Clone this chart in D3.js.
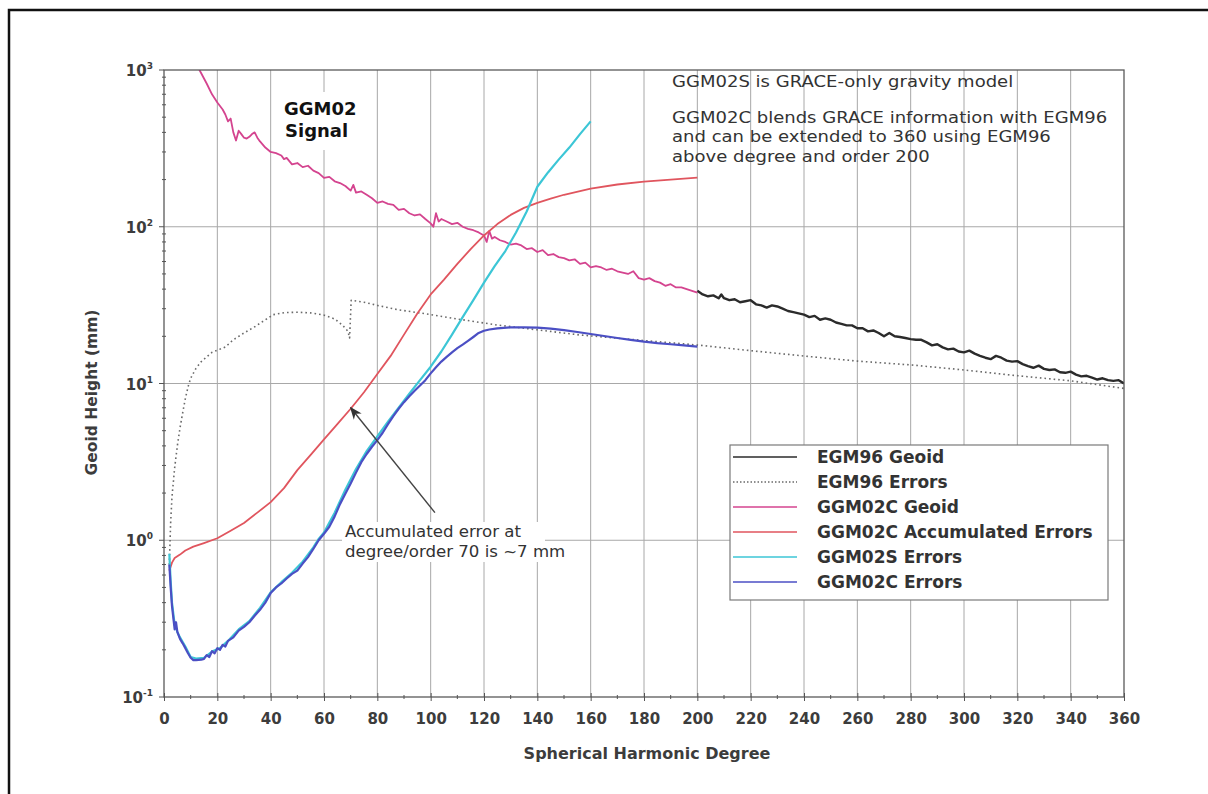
<!DOCTYPE html>
<html>
<head>
<meta charset="utf-8">
<script src="https://d3js.org/d3.v7.min.js"></script>
<style>
  body { margin: 0; background: #fff; }
  #chart svg { display: block; font-family: 'DejaVu Sans', 'Liberation Sans', sans-serif; }
</style>
</head>
<body>
<div id="chart"></div>
<script>
// values: [spherical harmonic degree, geoid height (mm)]
const egm96Geoid = [
  [200, 39], [202, 37], [204, 36], [206, 36.5], [208, 35], [209, 37], [210, 35], [212, 34],
  [214, 34.5], [216, 33], [218, 33.5], [220, 34], [221, 33], [222, 32], [224, 31.5], [226, 30.5],
  [228, 31.5], [230, 31], [232, 30], [234, 29], [236, 28.5], [238, 28], [240, 27.5], [242, 26.5],
  [244, 27], [246, 25.5], [248, 26], [250, 25.5], [252, 24.5], [254, 24], [256, 23.5], [258, 23.5],
  [260, 22.5], [262, 22.5], [264, 21.5], [266, 21.8], [268, 21], [270, 20], [272, 21], [274, 20],
  [276, 19.8], [278, 19.5], [280, 19.2], [282, 19], [284, 19], [286, 18.3], [288, 17.5], [290, 17.8],
  [292, 17], [294, 16.5], [296, 16.7], [298, 16], [300, 15.8], [302, 16.2], [304, 15.5], [306, 15],
  [308, 14.6], [310, 14.3], [312, 15], [314, 14.6], [316, 14], [318, 13.8], [320, 13.9], [322, 13.3],
  [324, 12.9], [326, 12.6], [328, 13], [330, 12.4], [332, 12.2], [334, 12.3], [336, 11.8], [338, 11.7],
  [340, 11.9], [342, 11.4], [344, 11.1], [346, 11.2], [348, 10.9], [350, 10.6], [352, 10.8], [354, 10.5],
  [356, 10.4], [358, 10.5], [360, 10.0]
];

const egm96Errors = [
  [2, 0.7], [2.5, 1.3], [3, 1.9], [4, 2.9], [5, 4.0], [6, 5.2], [7, 6.5], [8, 8.0], [9, 9.5],
  [10, 10.8], [12, 12.5], [14, 13.8], [16, 14.8], [18, 15.8], [20, 16.3], [23, 17.1], [26, 19],
  [30, 21], [34, 23], [38, 25.5], [41, 27.5], [45, 28.3], [50, 28.5], [55, 28.2], [60, 27.3],
  [64, 25.8], [67, 23.5], [69, 21.5], [69.6, 19.5], [70.2, 34], [75, 33], [80, 31.5], [88, 29.5],
  [96, 28.2], [110, 25.8], [125, 23.6], [140, 22], [156, 20.4], [180, 18.8], [200, 17.6], [220, 16.2],
  [243, 14.8], [260, 13.9], [281, 13.1], [300, 12.2], [318, 11.3], [340, 10.4], [360, 9.3]
];

const ggm02cGeoid = [
  [12, 1100], [14, 950], [16, 820], [18, 700], [20, 620], [22, 560], [23, 520], [24, 470], [25, 490],
  [26, 400], [27, 355], [28, 410], [29, 390], [30, 370], [31, 365], [32, 375], [33, 390], [34, 400],
  [35, 370], [36, 350], [38, 320], [40, 300], [42, 295], [44, 285], [45, 270], [46, 275], [48, 250],
  [50, 255], [52, 240], [54, 245], [56, 228], [58, 220], [60, 205], [62, 208], [64, 195], [66, 190],
  [68, 182], [70, 170], [71, 185], [72, 165], [74, 168], [76, 160], [78, 152], [80, 142], [82, 145],
  [84, 140], [86, 138], [88, 128], [90, 130], [92, 122], [94, 118], [96, 120], [98, 112], [100, 105],
  [101, 100], [102, 122], [103, 108], [104, 112], [106, 108], [108, 104], [110, 106], [112, 100],
  [114, 97], [116, 95], [118, 92], [120, 88], [121, 80], [122, 94], [123, 84], [124, 86], [126, 82],
  [128, 80], [130, 77], [132, 78], [134, 76], [136, 72], [138, 73], [140, 69], [142, 71], [144, 66],
  [146, 67], [148, 64], [150, 63], [152, 61], [154, 62], [156, 58], [158, 59], [160, 55], [162, 56],
  [164, 55], [166, 53], [168, 54], [170, 52], [172, 51], [174, 50], [176, 52], [178, 47], [180, 46],
  [182, 47], [184, 45], [186, 44], [188, 42], [190, 43], [192, 41], [194, 41], [196, 40], [198, 39],
  [200, 38]
];

const ggm02cAccumulated = [
  [2, 0.64], [3, 0.72], [4, 0.77], [6, 0.81], [8, 0.86], [11, 0.91], [15, 0.96], [20, 1.03],
  [25, 1.15], [30, 1.29], [35, 1.5], [40, 1.75], [45, 2.15], [50, 2.8], [55, 3.5], [60, 4.4],
  [65, 5.5], [70, 6.9], [75, 8.8], [80, 11.5], [85, 15], [90, 20.5], [95, 28], [100, 37],
  [105, 46], [110, 58], [115, 72], [120, 88], [125, 104], [130, 119], [135, 132], [140, 142],
  [145, 151], [150, 160], [160, 175], [170, 186], [180, 194], [190, 200], [200, 206]
];

const ggm02sErrors = [
  [2, 0.82], [2.5, 0.55], [3, 0.4], [4, 0.29], [5, 0.26], [6, 0.24], [8, 0.21], [10, 0.18],
  [12, 0.176], [15, 0.178], [18, 0.195], [21, 0.205], [24, 0.228], [28, 0.27], [32, 0.305],
  [36, 0.37], [40, 0.465], [44, 0.54], [48, 0.62], [52, 0.73], [56, 0.9], [58, 1.02], [60, 1.12],
  [64, 1.5], [68, 2.1], [72, 2.85], [76, 3.7], [80, 4.6], [84, 5.7], [88, 7.0], [92, 8.6],
  [96, 10.5], [100, 12.8], [104, 16], [108, 20.5], [112, 26.5], [116, 34], [120, 44], [124, 56],
  [128, 70], [132, 92], [136, 125], [140, 180], [144, 222], [148, 268], [152, 320], [156, 390],
  [160, 470]
];

const ggm02cErrors = [
  [2, 0.7], [2.5, 0.5], [3, 0.38], [3.5, 0.32], [4, 0.27], [4.5, 0.3], [5, 0.26], [6, 0.235],
  [7, 0.22], [8, 0.205], [9, 0.19], [10, 0.178], [11, 0.172], [12, 0.172], [14, 0.173], [15, 0.175],
  [16, 0.185], [17, 0.18], [18, 0.196], [19, 0.19], [20, 0.205], [21, 0.2], [22, 0.215], [23, 0.21],
  [24, 0.228], [26, 0.24], [28, 0.265], [30, 0.28], [32, 0.3], [34, 0.33], [36, 0.36], [38, 0.4],
  [40, 0.46], [42, 0.5], [44, 0.53], [46, 0.57], [48, 0.61], [50, 0.64], [52, 0.71], [54, 0.78],
  [56, 0.88], [58, 1.0], [60, 1.1], [62, 1.22], [64, 1.42], [66, 1.7], [68, 1.98], [70, 2.3],
  [72, 2.7], [74, 3.15], [76, 3.55], [78, 3.95], [80, 4.35], [82, 4.85], [84, 5.5], [86, 6.2],
  [88, 6.9], [90, 7.6], [92, 8.3], [94, 9.0], [96, 9.7], [98, 10.5], [100, 11.6], [102, 12.7],
  [104, 13.8], [106, 14.8], [108, 15.8], [110, 16.8], [112, 17.7], [114, 18.7], [116, 19.8],
  [118, 21], [120, 21.7], [122, 22.1], [125, 22.5], [130, 22.8], [135, 22.8], [140, 22.7],
  [145, 22.4], [150, 21.9], [155, 21.3], [160, 20.7], [165, 20.1], [170, 19.5], [175, 19],
  [180, 18.5], [185, 18.1], [190, 17.8], [195, 17.5], [200, 17.2]
];

const seriesNames = [
  'EGM96 Geoid', 'EGM96 Errors', 'GGM02C Geoid',
  'GGM02C Accumulated Errors', 'GGM02S Errors', 'GGM02C Errors'
];

const xTickValues = [0, 20, 40, 60, 80, 100, 120, 140, 160, 180, 200, 220, 240, 260, 280, 300, 320, 340, 360];
const yTickExponents = [-1, 0, 1, 2, 3];

const noteLines = [
  'GGM02S is GRACE-only gravity model',
  'GGM02C blends GRACE information with EGM96',
  'and can be extended to 360 using EGM96',
  'above degree and order 200'
];
const arrowNote = ['Accumulated error at', 'degree/order 70 is ~7 mm'];
// arrow runs from the note to the red curve at degree 70, ~7 mm
const arrowFrom = [101.6, 1.5];
const arrowTo = [70, 7];

function geoidChart() {
  const dimensions = {
    width: 1208,
    height: 794,
    margin: { top: 70, right: 84, bottom: 97, left: 164 },
  };
  dimensions.boundedWidth = dimensions.width - dimensions.margin.left - dimensions.margin.right;
  dimensions.boundedHeight = dimensions.height - dimensions.margin.top - dimensions.margin.bottom;

  const xAccessor = (d) => d[0];
  const yAccessor = (d) => d[1];

  const xScale = d3.scaleLinear().domain([0, 360]).range([0, dimensions.boundedWidth]);
  const yScale = d3.scaleLog().domain([0.1, 1000]).range([dimensions.boundedHeight, 0]);

  const wrapper = d3.select('#chart')
    .append('svg')
    .attr('width', dimensions.width)
    .attr('height', dimensions.height);

  // scanned page border (only left and top edges are on the page)
  wrapper.append('rect')
    .attr('x', 9).attr('y', 10)
    .attr('width', 1400).attr('height', 1000)
    .attr('fill', 'none')
    .attr('stroke', '#111')
    .attr('stroke-width', 2.5);

  const bounds = wrapper.append('g')
    .attr('transform', `translate(${dimensions.margin.left},${dimensions.margin.top})`);

  bounds.append('clipPath').attr('id', 'plot-clip')
    .append('rect')
    .attr('width', dimensions.boundedWidth)
    .attr('height', dimensions.boundedHeight);

  // grid
  const grid = bounds.append('g').attr('stroke', '#a8a8a8').attr('stroke-width', 1);
  grid.selectAll('.vgrid')
    .data(xTickValues.slice(1, -1))
    .join('line')
    .attr('x1', (d) => xScale(d)).attr('x2', (d) => xScale(d))
    .attr('y1', 0).attr('y2', dimensions.boundedHeight);
  grid.selectAll('.hgrid')
    .data(yTickExponents.slice(1, -1))
    .join('line')
    .attr('x1', 0).attr('x2', dimensions.boundedWidth)
    .attr('y1', (d) => yScale(Math.pow(10, d))).attr('y2', (d) => yScale(Math.pow(10, d)));

  // white patches behind the in-plot labels
  bounds.append('rect')
    .attr('x', 118).attr('y', 22).attr('width', 70).attr('height', 58)
    .attr('fill', '#fff');
  bounds.append('rect')
    .attr('x', 178).attr('y', 452).attr('width', 203).attr('height', 40)
    .attr('fill', '#fff');

  const lineGenerator = d3.line()
    .x((d) => xScale(xAccessor(d)))
    .y((d) => yScale(yAccessor(d)));

  const curves = bounds.append('g').attr('clip-path', 'url(#plot-clip)');
  const seriesStyles = [
    { data: egm96Geoid, color: '#2b2b2b', width: 2.4, dash: null },
    { data: egm96Errors, color: '#6a6a6a', width: 1.6, dash: '1.6,3' },
    { data: ggm02cGeoid, color: '#d4448f', width: 1.8, dash: null },
    { data: ggm02cAccumulated, color: '#e0555e', width: 1.8, dash: null },
    { data: ggm02sErrors, color: '#3cc6d6', width: 2.2, dash: null },
    { data: ggm02cErrors, color: '#4b4fc4', width: 2.2, dash: null },
  ];
  seriesStyles.forEach((s) => {
    curves.append('path')
      .datum(s.data)
      .attr('d', lineGenerator)
      .attr('fill', 'none')
      .attr('stroke', s.color)
      .attr('stroke-width', s.width)
      .attr('stroke-linejoin', 'round')
      .attr('stroke-dasharray', s.dash);
  });

  // frame
  bounds.append('rect')
    .attr('width', dimensions.boundedWidth)
    .attr('height', dimensions.boundedHeight)
    .attr('fill', 'none')
    .attr('stroke', '#5a5a5a')
    .attr('stroke-width', 1.3);

  // x axis
  const xAxisGenerator = d3.axisBottom(xScale).tickValues(xTickValues).tickSize(4).tickPadding(12);
  const xAxis = bounds.append('g')
    .attr('transform', `translate(0,${dimensions.boundedHeight})`)
    .call(xAxisGenerator);
  xAxis.select('.domain').remove();
  xAxis.selectAll('.tick line').attr('y1', -4).attr('stroke', '#555');
  xAxis.selectAll('.tick text')
    .attr('font-family', "'DejaVu Sans', sans-serif")
    .attr('font-size', 15)
    .attr('font-weight', 'bold')
    .attr('fill', '#3c3c3c');

  const xMinor = d3.range(10, 360, 20);
  xAxis.append('g').selectAll('line')
    .data(xMinor)
    .join('line')
    .attr('x1', (d) => xScale(d)).attr('x2', (d) => xScale(d))
    .attr('y1', -2).attr('y2', 2)
    .attr('stroke', '#555');

  xAxis.append('text')
    .attr('x', 483)
    .attr('y', 62)
    .attr('text-anchor', 'middle')
    .attr('font-family', "'DejaVu Sans', sans-serif")
    .attr('fill', '#3c3c3c')
    .attr('font-size', 16)
    .attr('font-weight', 'bold')
    .text('Spherical Harmonic Degree');

  // y axis (log, labelled as powers of ten)
  const yAxis = bounds.append('g');
  yAxis.selectAll('.major')
    .data(yTickExponents)
    .join('line')
    .attr('x1', -5).attr('x2', 0)
    .attr('y1', (d) => yScale(Math.pow(10, d))).attr('y2', (d) => yScale(Math.pow(10, d)))
    .attr('stroke', '#555');
  const yMinor = [];
  yTickExponents.slice(0, -1).forEach((e) => {
    d3.range(2, 10).forEach((m) => yMinor.push(m * Math.pow(10, e)));
  });
  yAxis.selectAll('.minor')
    .data(yMinor)
    .join('line')
    .attr('x1', -2).attr('x2', 2)
    .attr('y1', (d) => yScale(d)).attr('y2', (d) => yScale(d))
    .attr('stroke', '#555');

  const yLabels = yAxis.selectAll('.ylabel')
    .data(yTickExponents)
    .join('text')
    .attr('x', -11)
    .attr('y', (d) => yScale(Math.pow(10, d)) + 6)
    .attr('text-anchor', 'end')
    .attr('fill', '#3c3c3c')
    .attr('font-weight', 'bold')
    .attr('font-size', 15);
  yLabels.append('tspan').text('10');
  yLabels.append('tspan')
    .attr('dy', -7)
    .attr('font-size', 9)
    .text((d) => d);

  yAxis.append('text')
    .attr('transform', `translate(${-67},${dimensions.boundedHeight / 2 + 9}) rotate(-90)`)
    .attr('text-anchor', 'middle')
    .attr('fill', '#3c3c3c')
    .attr('font-size', 15.5)
    .attr('font-weight', 'bold')
    .text('Geoid Height (mm)');

  // in-plot labels
  const signal = bounds.append('text')
    .attr('x', 120).attr('y', 45)
    .attr('font-size', 18)
    .attr('font-weight', 'bold')
    .attr('fill', '#111');
  signal.append('tspan').attr('x', 120).text('GGM02');
  signal.append('tspan').attr('x', 121).attr('dy', 22).text('Signal');

  // top-right note: the scan is a little stretched sideways
  bounds.append('g')
    .attr('transform', 'translate(508,0) scale(1.1,1)')
    .selectAll('text')
    .data(noteLines)
    .join('text')
    .attr('x', 0)
    .attr('y', (d, i) => [17, 53, 72.4, 91.8][i])
    .attr('font-size', 16.4)
    .attr('fill', '#333')
    .text((d) => d);

  bounds.append('g')
    .selectAll('text')
    .data(arrowNote)
    .join('text')
    .attr('x', 181)
    .attr('y', (d, i) => 467 + i * 19.5)
    .attr('font-size', 16.6)
    .attr('fill', '#333')
    .text((d) => d);

  wrapper.append('defs').append('marker')
    .attr('id', 'arrowhead')
    .attr('viewBox', '0 0 10 10')
    .attr('refX', 9).attr('refY', 5)
    .attr('markerWidth', 9).attr('markerHeight', 9)
    .attr('orient', 'auto')
    .append('path')
    .attr('d', 'M0,1 L10,5 L0,9 L3,5 Z')
    .attr('fill', '#333');

  bounds.append('line')
    .attr('x1', xScale(arrowFrom[0])).attr('y1', yScale(arrowFrom[1]))
    .attr('x2', xScale(arrowTo[0])).attr('y2', yScale(arrowTo[1]))
    .attr('stroke', '#444')
    .attr('stroke-width', 1.4)
    .attr('marker-end', 'url(#arrowhead)');

  // legend
  const legend = bounds.append('g').attr('transform', 'translate(566,375)');
  legend.append('rect')
    .attr('width', 378).attr('height', 155)
    .attr('fill', '#fff')
    .attr('stroke', '#7a7a7a')
    .attr('stroke-width', 1.2);
  const legendRows = legend.selectAll('.row')
    .data(seriesNames)
    .join('g')
    .attr('transform', (d, i) => `translate(0,${12 + i * 25})`);
  legendRows.append('line')
    .attr('x1', 3).attr('x2', 67)
    .attr('stroke', (d, i) => seriesStyles[i].color)
    .attr('stroke-width', (d, i) => (i === 1 ? 1.4 : 1.6))
    .attr('stroke-dasharray', (d, i) => (i === 1 ? '1.5,2' : null));
  legendRows.append('text')
    .attr('x', 87).attr('y', 6)
    .attr('font-size', 17)
    .attr('font-weight', 'bold')
    .attr('fill', '#333')
    .text((d) => d);
}

geoidChart();
</script>
</body>
</html>
